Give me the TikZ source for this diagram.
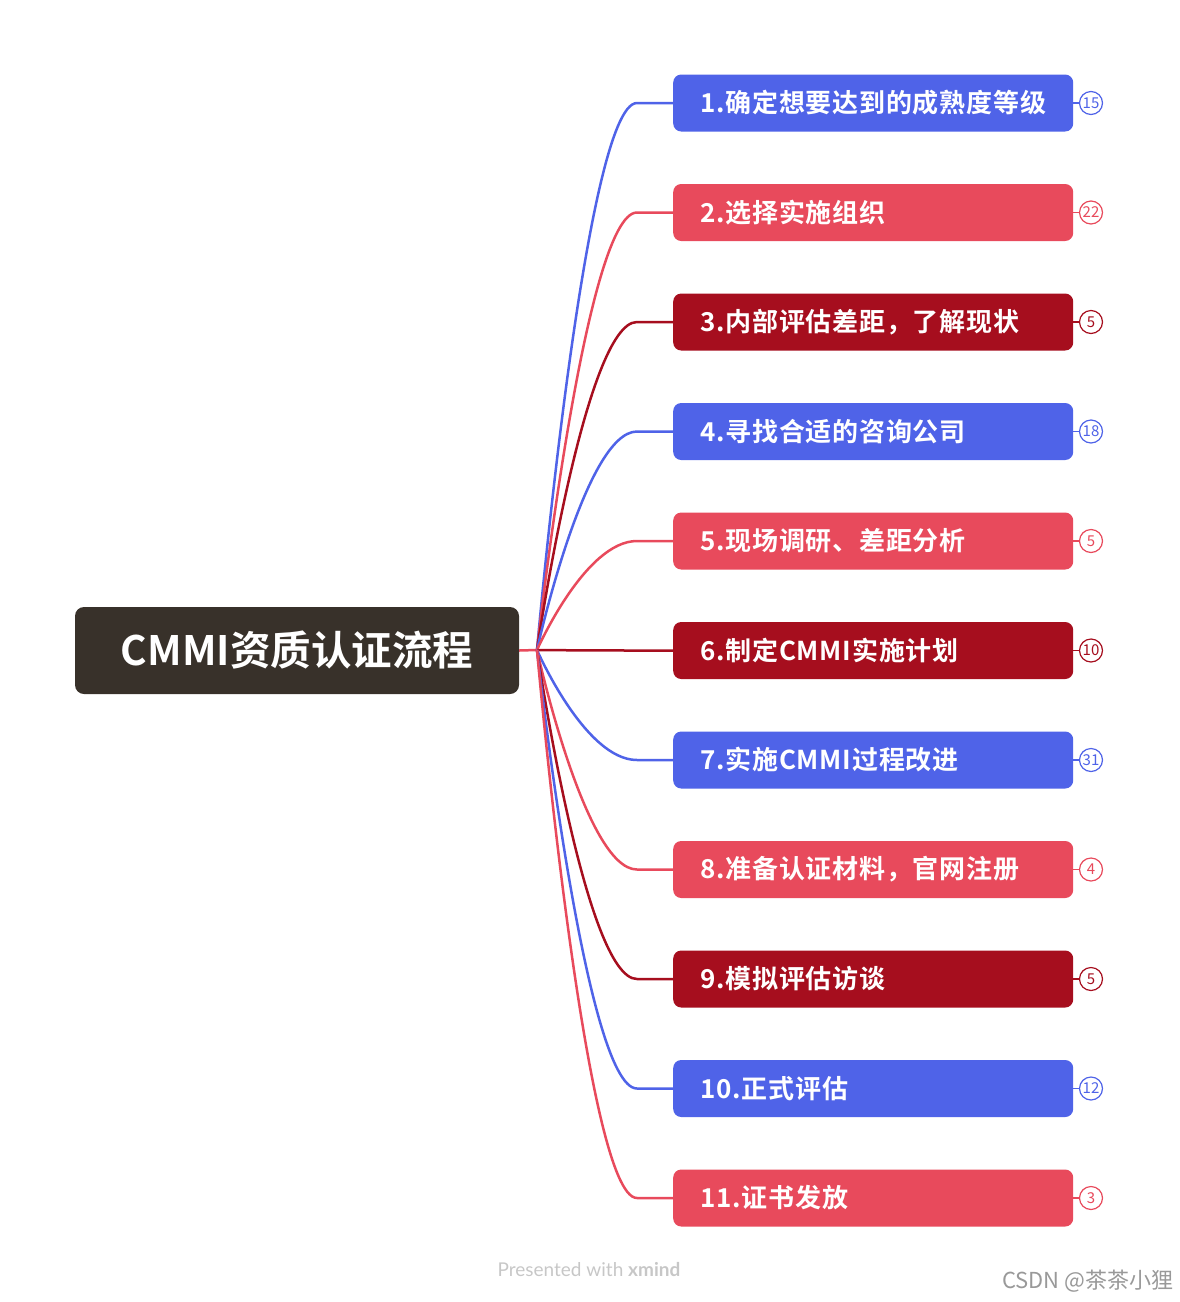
\documentclass[tikz,border=0pt]{standalone}
\usepackage{fontspec}
\setmainfont{Noto Sans CJK SC}[BoldFont={Noto Sans CJK SC Bold}]
\newfontfamily\zweigfont{Noto Sans CJK SC Bold}[LetterSpace=3]
\newfontfamily\latofont{Lato}
\definecolor{blau}{RGB}{79,99,232}
\definecolor{rot}{RGB}{232,74,92}
\definecolor{dunkelrot}{RGB}{166,14,30}
\definecolor{dunkel}{RGB}{56,49,42}
\begin{document}
\begin{tikzpicture}[x=1pt,y=-1pt,
	box/.style={anchor=west, rounded corners=8pt, minimum width=400pt, minimum height=57pt,
		text width=346pt, align=left, inner xsep=27pt, inner ysep=0pt, text=white,
		font=\zweigfont\fontsize{26}{26}\selectfont},
	zahl/.style={circle, draw, fill=white, line width=1.2pt, minimum size=23pt, inner sep=0pt,
		font=\fontsize{15}{15}\selectfont},
	ast/.style={line width=2.5pt}]
		\useasboundingbox (0,0) rectangle (1179,1302);
		%Zentrum
		\node[fill=dunkel, rounded corners=9pt, minimum width=444pt, minimum height=87pt, text=white,
			font=\bfseries\fontsize{40.5}{40.5}\selectfont] (m) at (297,650.5) {CMMI资质认证流程};
		\coordinate (hub) at (537,650);
		\draw[rot, ast] (m.east) -- (hub);
		%Zweige
		\foreach \i/\t/\n/\c in {1/{1.确定想要达到的成熟度等级}/15/blau, 2/{2.选择实施组织}/22/rot,
			3/{3.内部评估差距，了解现状}/5/dunkelrot, 4/{4.寻找合适的咨询公司}/18/blau,
			5/{5.现场调研、差距分析}/5/rot, 6/{6.制定CMMI实施计划}/10/dunkelrot,
			7/{7.实施CMMI过程改进}/31/blau, 8/{8.准备认证材料，官网注册}/4/rot,
			9/{9.模拟评估访谈}/5/dunkelrot, 10/{10.正式评估}/12/blau, 11/{11.证书发放}/3/rot}
		{
			\pgfmathsetmacro\y{103+(\i-1)*109.5}
			\draw[\c, ast] (hub) .. controls (hub) and (585,\y) .. (637,\y) -- (673,\y);
			\node[box, fill=\c] (b\i) at (673,\y) {\t};
			\node[zahl, draw=\c, text=\c] (c\i) at (1091,\y) {\n};
			\draw[\c, line width=1.2pt] (b\i.east) -- (c\i);
		}
		%Fusszeile
		\node[text=black!22, font=\latofont\fontsize{19}{19}\selectfont] (fuss) at (589,1270)
			{Presented with \textbf{xmind}};
		\node[text=black!40, anchor=east, font=\fontsize{22}{22}\selectfont] (wz) at (1177,1281)
			{CSDN @茶茶小狸};
	\end{tikzpicture}
\end{document}
